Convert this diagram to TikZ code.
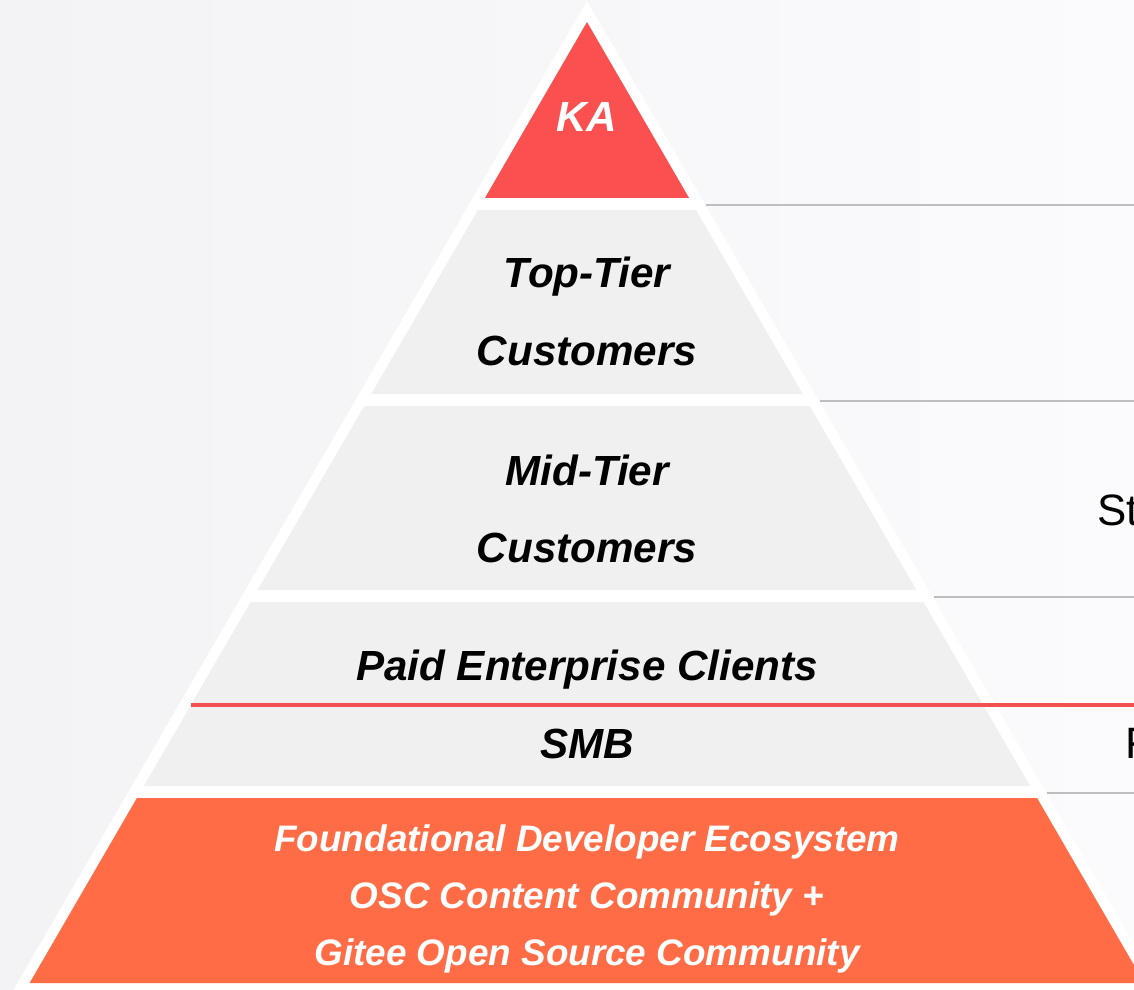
\documentclass[tikz,border=0pt]{standalone}
\usepackage{fontspec}
\setmainfont{Liberation Sans}
\usepackage{tikz}
\usetikzlibrary{positioning}
\definecolor{bgleft}{RGB}{243,242,244}
\definecolor{bgright}{RGB}{251,251,253}
\definecolor{kared}{RGB}{250,80,80}
\definecolor{bandgray}{RGB}{240,240,240}
\definecolor{baseorange}{RGB}{255,108,69}
\definecolor{sepgray}{RGB}{190,190,190}
\definecolor{linered}{RGB}{245,80,80}
\tikzset{
  tier/.style={anchor=base,font=\fontsize{24}{28}\selectfont\bfseries\itshape,text=black},
  basetext/.style={anchor=base,font=\fontsize{21}{25}\selectfont\bfseries\itshape,text=white},
  sidetext/.style={anchor=base west,font=\fontsize{25}{30}\selectfont,text=black}
}
\begin{document}
\begin{tikzpicture}[line cap=round,line join=round,x=0.02cm,y=-0.02cm]
	\useasboundingbox (0,0) rectangle (1134,990);
	\clip (0,0) rectangle (1134,990);
	\shade[left color=bgleft,right color=bgright] (0,0) rectangle (1134,990);
	% white pyramid body
	\fill[white] (587,1) -- ({587+0.58*989},990) -- ({587-0.58*989},990) -- cycle;
	% separators to the right
	\foreach \y in {205,401,597,793}
	\draw[sepgray,line width=1pt,line cap=butt] ({587+0.58*(\y-1)+1},\y) -- (1134,\y);
	% top
	\fill[kared] (587,22) -- ({587+0.58*176},198) -- ({587-0.58*176},198) -- cycle;
	% bands
	\foreach \t/\b/\c in {210/394/bandgray,406/590/bandgray,602/786/bandgray,798/983/baseorange}
	\fill[\c] ({587-0.58*(\t-22)},\t) -- ({587+0.58*(\t-22)},\t) -- ({587+0.58*(\b-22)},\b) -- ({587-0.58*(\b-22)},\b) -- cycle;
	\draw[linered,line width=2.3pt,line cap=butt] ({587-0.58*(705-22)},705) -- (1134,705);
	% labels
	\node[tier,text=white] (ka) at (587,132) {KA};
	\node[tier] (top1) at (587,288) {Top-Tier};
	\node[tier] (top2) at (587,365) {Customers};
	\node[tier] (mid1) at (587,485) {Mid-Tier};
	\node[tier] (mid2) at (587,562) {Customers};
	\node[tier] (paid) at (587,680) {Paid Enterprise Clients};
	\node[tier] (smb) at (587,758) {SMB};
	\node[basetext] (base1) at (587,851) {Foundational Developer Ecosystem};
	\node[basetext] (base2) at (587,908) {OSC Content Community +};
	\node[basetext] (base3) at (587,965) {Gitee Open Source Community};
	\node[sidetext,inner sep=0pt] (sidest) at (1097,525) {St};
	\node[sidetext,inner sep=0pt] (sidef) at (1125,758) {F};
\end{tikzpicture}
\end{document}
